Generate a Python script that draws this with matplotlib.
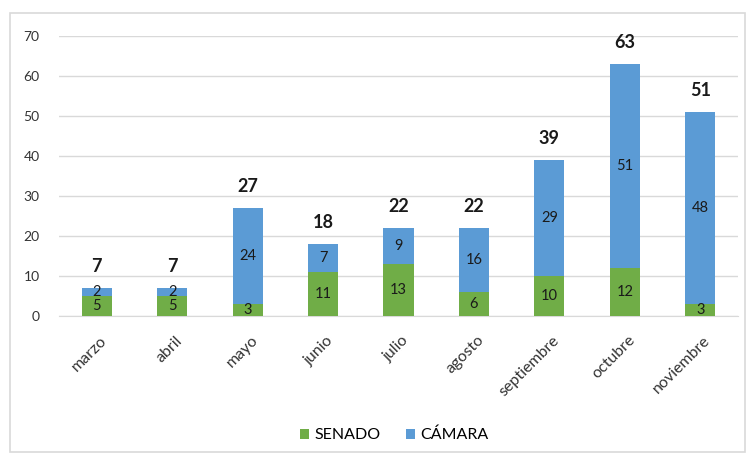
import matplotlib
matplotlib.use("Agg")
import matplotlib.pyplot as plt
from matplotlib.patches import Rectangle
from matplotlib.transforms import ScaledTranslation
import numpy as np

months = ["marzo", "abril", "mayo", "junio", "julio", "agosto", "septiembre", "octubre", "noviembre"]
senado = [5, 5, 3, 11, 13, 6, 10, 12, 3]
camara = [2, 2, 24, 7, 9, 16, 29, 51, 48]

plt.rcParams['font.family'] = ['Lato', 'DejaVu Sans']

green = "#70AD47"
blue = "#5B9BD5"

fig = plt.figure(figsize=(7.52, 4.55), dpi=100)
fig.patches.append(Rectangle((10/752, 1-452/455), 735/752, 439/455, transform=fig.transFigure,
                             fill=False, edgecolor="#D9D9D9", linewidth=1.2))
ax = fig.add_axes([59/752, 1-316/455, 679/752, 280/455])

x = np.arange(len(months))
w = 0.4
ax.bar(x, senado, width=w, color=green, label="SENADO", zorder=3)
ax.bar(x, camara, width=w, bottom=senado, color=blue, label="CÁMARA", zorder=3)

for i in range(len(months)):
    ax.text(x[i], senado[i]/2, str(senado[i]), ha="center", va="center", fontsize=10.5, color="#1a1a1a", zorder=4)
    ax.text(x[i], senado[i] + camara[i]/2, str(camara[i]), ha="center", va="center", fontsize=10.5, color="#1a1a1a", zorder=4)
    tot = senado[i] + camara[i]
    ax.text(x[i], tot + 5.5, str(tot), ha="center", va="center", fontsize=13, fontweight="bold", color="#1a1a1a", zorder=4)

ax.set_xlim(-0.5, len(months) - 0.5)
ax.set_ylim(0, 70)
ax.set_yticks(range(0, 71, 10))
ax.yaxis.grid(True, color="#D9D9D9", linewidth=1)
ax.set_axisbelow(True)
for s in ["top", "right", "left"]:
    ax.spines[s].set_visible(False)
ax.spines["bottom"].set_color("#D9D9D9")
ax.tick_params(axis="both", length=0, labelsize=10, colors="#333333")
ax.tick_params(axis="y", pad=14)
ax.tick_params(axis="x", pad=16, labelsize=11.5)
ax.set_xticks(x)
ax.set_xticklabels(months, rotation=45, ha="right", va="center", rotation_mode="anchor")
offset = ScaledTranslation(8/100, 0, fig.dpi_scale_trans)
for lab in ax.get_xticklabels():
    lab.set_transform(lab.get_transform() + offset)

fig.legend(loc="center", bbox_to_anchor=(394/752, 1-435/455), ncol=2, frameon=False,
           fontsize=11.5, handlelength=0.6, handleheight=0.6, handletextpad=0.3, columnspacing=1.6)

fig.savefig("out.png", dpi=100)
